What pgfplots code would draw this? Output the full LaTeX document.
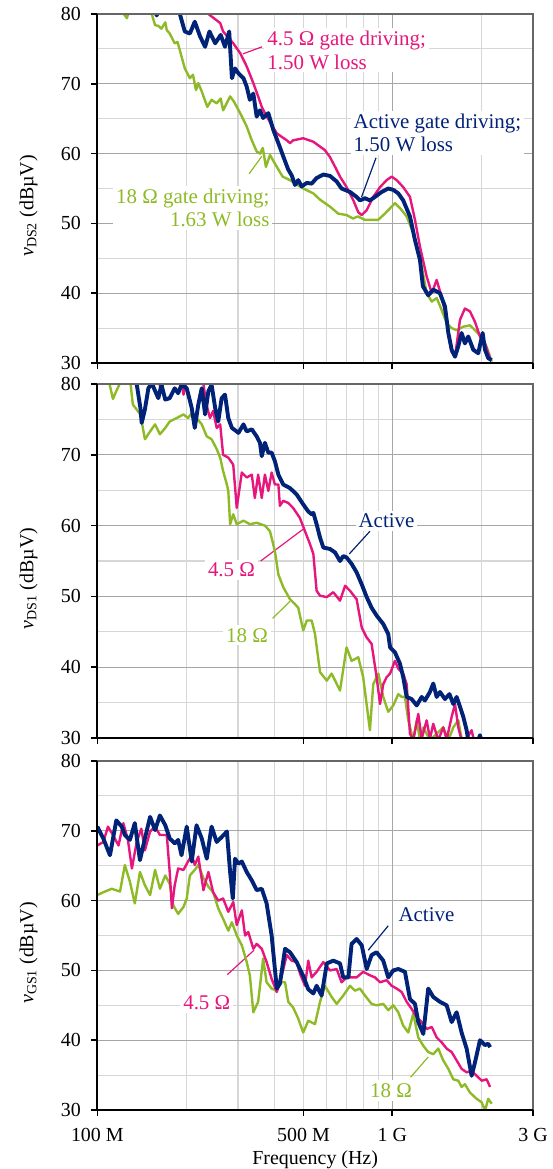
\documentclass[border=0pt]{standalone}
\usepackage{fontspec}
\setmainfont{Liberation Serif}
\usepackage{pgfplots}
\pgfplotsset{compat=1.18}

\definecolor{navyc}{RGB}{0,35,120}
\definecolor{magc}{RGB}{230,22,125}
\definecolor{grnc}{RGB}{141,186,38}
\newcommand\lbl{\fontsize{21}{23.5}\selectfont}

\pgfplotsset{
  major grid style={color=black!35, line width=1.3bp},
  minor grid style={color=black!16, line width=1.1bp},
  tick style={black, line width=1.6bp},
  tick label style={font=\fontsize{20}{24}\selectfont},
  yticklabel style={xshift=-7bp},
  xticklabel style={yshift=-9bp},
  label style={font=\fontsize{20}{24}\selectfont},
}

\newcommand\frameit{%
  \draw[black!60, line width=1.2bp] (rel axis cs:0,1) -- (rel axis cs:1,1) -- (rel axis cs:1,0);
  \draw[black, line width=2bp] (rel axis cs:0,1) -- (rel axis cs:0,0) -- (rel axis cs:1,0);
}

\begin{document}
\begin{tikzpicture}
\useasboundingbox (0,0) rectangle (553bp,-1169bp);

% ---------------- v_DS2 ----------------
\begin{axis}[at={(97.3bp,-363bp)}, anchor=south west, height=349bp,
  scale only axis, width=435.7bp, xmode=log,
  xmin=100, xmax=3000, ymin=30, ymax=80,
  xtick={100,500,1000,3000}, xticklabels={},
  minor xtick={200,300,400,500,600,700,800,900,2000},
  ytick={30,40,...,80}, minor ytick={35,45,...,75},
  xminorgrids=true, ymajorgrids=true, yminorgrids=true,
  extra x ticks={1000}, extra x tick labels={},
  extra x tick style={xmajorgrids=true},
  axis line style={draw=none},
  tick align=outside, major tick length=6bp, minor tick length=0pt,
  xtick pos=left, ytick pos=left,
  /pgf/number format/assume math mode=true,
  ylabel style={at={(axis description cs:-0.158,0.45)}, anchor=center},
  clip mode=individual,
  ylabel={\textit{v}\textsubscript{DS2} (dBµV)}]
\node[text=magc, fill=white, align=left, anchor=west, inner sep=3bp, font=\lbl] at (axis cs:368,74.8) {4.5 Ω gate driving;\\1.50 W loss};
\node[text=navyc, fill=white, align=left, anchor=west, inner sep=3bp, font=\lbl] at (axis cs:722,63.0) {Active gate driving;\\1.50 W loss};
\node[text=grnc, fill=white, align=right, anchor=east, inner sep=3bp, font=\lbl] at (axis cs:393,52.2) {18 Ω gate driving;\\1.63 W loss};
\draw[magc, line width=1.2bp] (axis cs:312,74.3) -- (axis cs:362,75.3);
\draw[navyc, line width=1.2bp] (axis cs:881,59.4) -- (axis cs:787,53.8);
\draw[grnc, line width=1.2bp] (axis cs:327,57.1) -- (axis cs:361,59.6);
\addplot[color=grnc, line width=2.4bp, line join=round] coordinates {
(105,85) (118,81) (123,80) (126,79.4) (129,81) (140,84) (153,80.0) (157,78.4) (161,78.3) (165,77.9) (170,78.8) (172,77.7) (176,77.2) (183,75.8) (187,76.0) (190.5,74.8) (198,72.2) (206,70.8) (211,71.3) (216,69.1) (220,70.1) (226,68.9) (236,66.7) (244,67.7) (254,67.2) (262,67.9) (267,66.2) (276,67.4) (282,68.2) (291,67.4) (305,65.8) (321,63.9) (334,61.9) (347,60.3) (356,60.0) (364,60.8) (373,58.1) (385,59.8) (406,58.1) (425,56.7) (450,56.2) (499,55.0) (540,54.3) (569,53.4) (615,52.4) (656,51.4) (700,51.2) (736,50.7) (765,51.0) (808,50.5) (851,50.5) (895,50.5) (944,51.4) (1021,52.9) (1062,52.2) (1119,51.0) (1178,48.6) (1241,45.2) (1308,40.0) (1361,38.8) (1415,39.3) (1470,37.6) (1529,35.7) (1590,35.0) (1653,34.7) (1741,35.2) (1834,35.4) (1907,34.7) (2010,33.7) (2089,32.3) (2173,30.2)
};
\addplot[color=magc, line width=2.4bp, line join=round] coordinates {
(190,85) (238,80) (261,78.7) (267,77.5) (289,75.8) (305,74.4) (321,72.5) (338,70.1) (351,68.2) (361,66.7) (370,65.8) (390,64.1) (406,62.9) (422,62.4) (439,61.9) (450,61.5) (461,61.9) (499,62.2) (540,61.7) (569,61.0) (591,60.5) (615,59.5) (640,58.1) (665,56.7) (700,55.2) (738,53.3) (767,51.6) (788,51.2) (819,51.9) (862,53.8) (909,55.2) (957,56.2) (995,56.7) (1035,56.2) (1089,55.2) (1148,53.8) (1194,50.5) (1241,46.7) (1308,42.4) (1361,40.0) (1414,41.9) (1470,39.5) (1529,36.2) (1590,31.6) (1632,30.9) (1697,36.2) (1763,37.8) (1834,37.4) (1907,35.9) (1983,33.8) (2062,32.8) (2144,30.7)
};
\addplot[color=navyc, line width=3.9bp, line join=round] coordinates {
(140,85) (152,82) (159,79.8) (166,82) (182,82) (190.5,80) (198,77.5) (206,77.2) (214,78.9) (223,76.8) (232,75.3) (240,77.5) (251,75.8) (262,77.0) (271,75.3) (280,77.5) (286,70.8) (293,72.2) (301,71.5) (313,70.8) (321,69.6) (329,67.7) (338,68.6) (347,65.3) (356,66.2) (365,65.1) (380,65.8) (395,63.4) (411,61.5) (427,59.6) (444,57.7) (456,56.9) (468,55.5) (480,56.2) (493,55.3) (513,55.8) (533,55.7) (554,56.5) (584,57.0) (615,56.8) (648,56.0) (673,55.0) (719,54.5) (757,53.8) (777,53.3) (808,53.6) (840,53.3) (874,53.8) (920,54.5) (969,55.0) (1008,54.8) (1048,54.3) (1089,53.3) (1148,51.0) (1194,47.6) (1241,44.8) (1270,41.0) (1324,39.7) (1377,40.5) (1451,40.0) (1509,38.1) (1549,34.3) (1590,31.9) (1632,30.9) (1674,32.4) (1718,34.3) (1763,32.8) (1810,33.8) (1882,31.9) (1957,31.4) (2025,34.3) (2062,31.9) (2115,30.7) (2173,30.4)
};
\frameit
\end{axis}

% ---------------- v_DS1 ----------------
\begin{axis}[at={(97.3bp,-738bp)}, anchor=south west, height=354bp,
  scale only axis, width=435.7bp, xmode=log,
  xmin=100, xmax=3000, ymin=30, ymax=80,
  xtick={100,500,1000,3000}, xticklabels={},
  minor xtick={200,300,400,500,600,700,800,900,2000},
  ytick={30,40,...,80}, minor ytick={35,45,...,75},
  xminorgrids=true, ymajorgrids=true, yminorgrids=true,
  extra x ticks={1000}, extra x tick labels={},
  extra x tick style={xmajorgrids=true},
  axis line style={draw=none},
  tick align=outside, major tick length=6bp, minor tick length=0pt,
  xtick pos=left, ytick pos=left,
  /pgf/number format/assume math mode=true,
  ylabel style={at={(axis description cs:-0.158,0.45)}, anchor=center},
  clip mode=individual,
  ylabel={\textit{v}\textsubscript{DS1} (dBµV)}]
\node[text=navyc, fill=white, anchor=center, inner sep=3bp, font=\lbl] at (axis cs:956,60.7) {Active};
\node[text=magc, fill=white, anchor=center, inner sep=3bp, font=\lbl] at (axis cs:285,53.7) {4.5 Ω};
\node[text=grnc, fill=white, anchor=center, inner sep=3bp, font=\lbl] at (axis cs:322,44.5) {18 Ω};
\draw[navyc, line width=1.2bp] (axis cs:840,59.2) -- (axis cs:715,56.0);
\draw[magc, line width=1.2bp] (axis cs:358,55.0) -- (axis cs:499,59.5);
\draw[grnc, line width=1.2bp] (axis cs:393,46.9) -- (axis cs:450,49.3);
\addplot[color=grnc, line width=2.4bp, line join=round] coordinates {
(105,84) (110,80) (113,77.9) (116,79) (119,80) (122,83) (128,82) (132,77.1) (140,75.7) (145,72.2) (151,73.3) (157,74.3) (163,72.9) (170,73.8) (176,74.7) (186,75.2) (196,75.7) (203,75.2) (209,75.9) (217,75.2) (226,74.3) (235,72.6) (244,72.2) (254,70.8) (261,69.6) (267,67.7) (275,65.8) (278,64.9) (282,60.2) (289,61.6) (297,60.2) (313,60.7) (329,60.2) (347,60.4) (370,60.0) (385,59.2) (400,56.4) (411,53.1) (427,51.3) (450,49.6) (468,48.9) (480,48.4) (499,45.2) (513,46.6) (533,46.6) (547,44.7) (569,39.3) (600,38.1) (623,39.1) (665,36.7) (700,42.8) (728,40.9) (767,41.4) (797,38.6) (840,31.1) (862,37.6) (897,39.1) (932,35.8) (969,33.7) (1008,34.6) (1048,36.2) (1076,35.8) (1104,35.8) (1133,32.5) (1178,29.7) (1210,32.5) (1241,29.7) (1274,31.5) (1342,29.7) (1414,30.6) (1489,31.5) (1549,29.7) (1610,31.5) (1674,32.5) (1718,29.9) (1760,28)
};
\addplot[color=magc, line width=2.4bp, line join=round] coordinates {
(150,84) (165,79.2) (175,83) (190,82) (196,78.5) (205,82) (225,82) (235,76.9) (241,75.2) (247,76.2) (254,73.8) (261,74.3) (267,70.0) (278,69.6) (289,68.6) (297,62.5) (309,67.5) (321,66.8) (334,67.2) (342,63.9) (351,67.2) (361,63.9) (370,67.2) (380,64.9) (390,67.5) (400,65.8) (411,65.8) (416,62.8) (427,63.5) (444,63.2) (461,62.5) (486,61.1) (506,59.2) (526,57.4) (540,56.0) (554,50.8) (569,50.1) (600,49.9) (631,50.6) (665,49.4) (692,51.5) (719,50.8) (757,49.6) (788,45.6) (819,44.2) (851,43.3) (885,38.6) (909,34.8) (932,37.6) (957,38.6) (983,39.1) (1021,40.9) (1048,39.8) (1089,39.1) (1119,37.6) (1148,30.6) (1178,29.7) (1225,33.4) (1258,29.9) (1308,32.5) (1342,29.9) (1377,32.0) (1432,29.7) (1489,31.5) (1529,29.8) (1590,33.0) (1632,34.8) (1674,31.5) (1718,29.7) (1787,29.9) (1858,31.1) (1907,29)
};
\addplot[color=navyc, line width=3.9bp, line join=round] coordinates {
(120,84) (136,80) (140,76.6) (141.4,74.5) (145,76.4) (149,79.4) (153,80.1) (161,78.0) (165,79.9) (170,77.8) (176,78.0) (183,79.4) (188,78.7) (193,79.9) (201,79.4) (209,76.6) (214,73.8) (220,77.1) (226,79.4) (232,75.7) (238,79.0) (244,79.9) (251,76.6) (257,74.7) (264,78.0) (271,78.5) (278,75.2) (286,73.8) (297,73.3) (301,73.1) (313,74.3) (321,73.3) (334,73.6) (347,72.6) (356,71.7) (361,69.8) (370,71.7) (380,70.3) (390,70.3) (400,69.1) (411,67.2) (427,65.8) (450,65.3) (474,64.4) (499,63.0) (519,62.0) (533,61.6) (540,61.8) (554,60.2) (569,58.3) (584,56.9) (615,56.7) (640,56.2) (665,55.0) (682,55.7) (700,55.5) (728,54.6) (757,53.4) (788,51.7) (819,49.9) (851,48.4) (885,47.3) (932,46.1) (969,44.7) (983,42.8) (1021,42.1) (1062,40.5) (1089,38.6) (1119,35.8) (1163,35.5) (1210,34.6) (1258,35.8) (1290,35.3) (1342,36.5) (1377,37.7) (1414,35.8) (1451,36.5) (1509,35.5) (1563,36.2) (1610,34.8) (1653,35.8) (1697,34.4) (1741,33.0) (1787,31.1) (1810,29.7) (1900,28) (1983,30.4) (2050,28)
};
\frameit
\end{axis}

% ---------------- v_GS1 ----------------
\begin{axis}[at={(97.3bp,-1110bp)}, anchor=south west, height=349bp,
  scale only axis, width=435.7bp, xmode=log,
  xmin=100, xmax=3000, ymin=30, ymax=80,
  xtick={100,500,1000,3000}, xticklabels={100 M,500 M,1 G,3 G},
  minor xtick={200,300,400,500,600,700,800,900,2000},
  ytick={30,40,...,80}, minor ytick={35,45,...,75},
  xminorgrids=true, ymajorgrids=true, yminorgrids=true,
  extra x ticks={1000}, extra x tick labels={},
  extra x tick style={xmajorgrids=true},
  axis line style={draw=none},
  tick align=outside, major tick length=6bp, minor tick length=0pt,
  xtick pos=left, ytick pos=left,
  /pgf/number format/assume math mode=true,
  ylabel style={at={(axis description cs:-0.158,0.45)}, anchor=center},
  clip mode=individual,
  xlabel={Frequency (Hz)},
  xlabel style={at={(axis description cs:0.5,-0.116)}, anchor=north, inner sep=0pt},
  ylabel={\textit{v}\textsubscript{GS1} (dBµV)}]
\node[text=navyc, fill=white, anchor=center, inner sep=3bp, font=\lbl] at (axis cs:1306,58.0) {Active};
\node[text=magc, fill=white, anchor=center, inner sep=3bp, font=\lbl] at (axis cs:235,45.4) {4.5 Ω};
\node[text=grnc, fill=white, anchor=center, inner sep=3bp, font=\lbl] at (axis cs:990,32.8) {18 Ω};
\draw[navyc, line width=1.2bp] (axis cs:969,56.4) -- (axis cs:829,52.9);
\draw[magc, line width=1.2bp] (axis cs:276,49.4) -- (axis cs:340,52.9);
\draw[grnc, line width=1.2bp] (axis cs:1154,34.7) -- (axis cs:1324,37.6);
\addplot[color=grnc, line width=2.4bp, line join=round] coordinates {
(100,60.8) (104.8,61.2) (111.9,61.7) (119.4,61.3) (124,65.1) (129,62.7) (134,59.6) (139.5,64.1) (145,62.2) (151,60.8) (157,64.4) (163,61.7) (170,63.6) (176,62.4) (181,59.3) (188,58.1) (196,59.1) (201,60.3) (206,63.6) (214,64.4) (220,65.1) (229,63.2) (238,62.0) (247,61.2) (257,58.9) (267,57.4) (278,55.7) (286,56.9) (297,55.0) (309,53.6) (321,51.2) (329,49.3) (338,44.0) (351,45.5) (365,51.7) (375,48.3) (390,47.4) (406,47.1) (416,48.3) (433,48.3) (444,45.5) (461,44.7) (480,43.1) (499,41.1) (519,42.8) (547,42.3) (569,45.5) (591,47.8) (623,46.2) (648,45.2) (682,46.4) (719,47.8) (747,47.1) (777,47.4) (808,46.4) (851,45.2) (885,45.0) (932,45.2) (969,44.3) (1008,45.0) (1048,44.0) (1089,42.1) (1133,41.1) (1178,43.8) (1225,40.4) (1274,39.2) (1324,38.3) (1377,38.0) (1432,38.8) (1489,37.1) (1549,35.9) (1610,34.4) (1674,34.2) (1718,33.3) (1763,33.7) (1834,32.5) (1933,31.6) (2010,31.1) (2062,29.9) (2115,31.6) (2173,30.9)
};
\addplot[color=magc, line width=2.4bp, line join=round] coordinates {
(100,67.9) (104.8,68.4) (108.7,70.6) (113,69.4) (118,67.9) (122.5,71.1) (127,68.7) (131,64.6) (136,68.4) (141,70.3) (145,67.2) (151,69.9) (157,70.6) (163,69.4) (172,69.4) (176,64.1) (179,58.9) (183,62.2) (188,64.6) (196,64.4) (203,65.6) (209,66.5) (214,65.1) (220,66.3) (229,61.5) (238,64.1) (247,61.2) (257,60.0) (267,60.3) (278,58.4) (289,59.8) (297,56.5) (309,58.6) (317,55.0) (325,55.5) (338,53.1) (347,53.8) (361,53.1) (375,51.2) (390,48.8) (406,46.9) (422,49.3) (439,52.2) (456,51.4) (474,51.2) (487,49.5) (506,47.8) (519,51.4) (533,49.0) (554,49.8) (584,51.2) (615,50.0) (648,50.2) (673,48.3) (700,49.0) (728,49.0) (757,49.0) (797,49.8) (840,49.3) (874,49.0) (909,48.3) (957,48.6) (995,47.8) (1035,47.4) (1076,46.9) (1119,45.5) (1163,44.5) (1210,43.3) (1258,42.6) (1308,41.6) (1361,41.9) (1414,40.4) (1470,39.7) (1529,38.8) (1590,38.3) (1653,37.1) (1718,35.9) (1787,35.4) (1858,35.6) (1933,34.9) (2010,34.2) (2089,34.4) (2146,33.3)
};
\addplot[color=navyc, line width=3.9bp, line join=round] coordinates {
(100,70.6) (104.8,68.9) (110.4,66.5) (116,71.5) (121,70.6) (124,69.4) (129,68.7) (134,71.1) (139.5,65.8) (145,68.9) (151,72.0) (157,70.1) (163,72.2) (170,70.8) (176,68.9) (183,68.2) (188,68.7) (193,66.5) (201,70.6) (209,65.6) (217,70.8) (226,68.9) (235,66.0) (244,70.6) (254,68.4) (264,69.1) (275,69.9) (282,64.1) (288,60.3) (293,66.0) (301,65.3) (309,65.6) (321,64.1) (334,62.9) (347,61.5) (361,61.7) (375,59.6) (390,55.0) (406,47.4) (416,48.1) (433,53.1) (450,52.6) (474,51.2) (499,49.2) (519,47.3) (540,46.7) (554,47.8) (576,46.4) (600,51.0) (631,51.4) (665,51.0) (682,49.0) (710,49.0) (728,53.8) (757,54.5) (788,53.6) (819,50.2) (851,52.2) (885,52.6) (932,51.4) (969,49.0) (1008,50.0) (1048,50.2) (1104,49.8) (1148,45.9) (1194,45.2) (1225,42.6) (1274,40.9) (1324,47.4) (1377,46.2) (1451,45.5) (1529,45.0) (1590,42.6) (1653,44.0) (1718,41.1) (1787,38.8) (1858,34.9) (1907,36.8) (1983,40.0) (2062,39.3) (2115,39.5) (2146,39.0)
};
\frameit
\end{axis}
\end{tikzpicture}
\end{document}
